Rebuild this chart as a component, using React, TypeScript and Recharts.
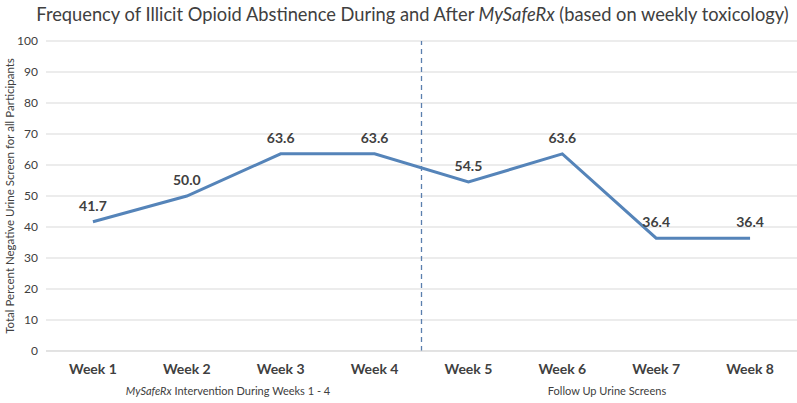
import { LineChart, Line, XAxis, YAxis, CartesianGrid, ReferenceLine, LabelList } from "recharts";

const weeks = ["Week 1", "Week 2", "Week 3", "Week 4", "Week 5", "Week 6", "Week 7", "Week 8"];
const abstinence = [41.7, 50.0, 63.6, 63.6, 54.5, 63.6, 36.4, 36.4];
const yTicks = [0, 10, 20, 30, 40, 50, 60, 70, 80, 90, 100];
const splitAfterWeek = 4.5;

const data = weeks.map((week, i) => ({ x: i + 1, week, value: abstinence[i] }));

const font = "Lato, 'Open Sans', sans-serif";
const textColor = "#404040";

function App() {
    return (
        <div style={{ position: "absolute", left: 0, top: 0, width: 797, height: 403, background: "#ffffff", fontFamily: font }}>
            <div
                style={{
                    position: "absolute",
                    left: 0,
                    top: 3,
                    width: 825,
                    textAlign: "center",
                    fontSize: 18.3,
                    color: textColor,
                    whiteSpace: "nowrap",
                }}
            >
                Frequency of Illicit Opioid Abstinence During and After <i>MySafeRx</i> (based on weekly toxicology)
            </div>
            <div
                style={{
                    position: "absolute",
                    left: 9,
                    top: 196,
                    transform: "translate(-50%, -50%) rotate(-90deg)",
                    fontSize: 11.5,
                    color: textColor,
                    whiteSpace: "nowrap",
                }}
            >
                Total Percent Negative Urine Screen for all Participants
            </div>
            <div style={{ position: "absolute", left: 228, top: 384, transform: "translateX(-50%)", fontSize: 11, color: textColor, whiteSpace: "nowrap" }}>
                <i>MySafeRx</i> Intervention During Weeks 1 - 4
            </div>
            <div style={{ position: "absolute", left: 607, top: 384, transform: "translateX(-50%)", fontSize: 11, color: textColor, whiteSpace: "nowrap" }}>
                Follow Up Urine Screens
            </div>
            <LineChart width={797} height={403} data={data} margin={{ top: 41, right: 0, left: 0, bottom: 0 }}>
                <CartesianGrid vertical={false} stroke="#d9d9d9" />
                <XAxis
                    dataKey="x"
                    type="number"
                    domain={[0.5, 8.5]}
                    ticks={[1, 2, 3, 4, 5, 6, 7, 8]}
                    tickFormatter={(v) => weeks[Number(v) - 1]}
                    height={52}
                    tickLine={false}
                    axisLine={{ stroke: "#d9d9d9" }}
                    tickMargin={7}
                    tick={{ fill: textColor, fontSize: 14, fontWeight: 700, fontFamily: font }}
                />
                <YAxis
                    domain={[0, 100]}
                    ticks={yTicks}
                    width={46}
                    tickLine={false}
                    axisLine={false}
                    tick={{ fill: textColor, fontSize: 12, fontFamily: font }}
                />
                <ReferenceLine x={splitAfterWeek} stroke="#5b7fae" strokeDasharray="5 4" strokeWidth={1.3} />
                <Line
                    type="linear"
                    dataKey="value"
                    stroke="#5584b9"
                    strokeWidth={3}
                    dot={false}
                    isAnimationActive={false}
                >
                    <LabelList
                        dataKey="value"
                        position="top"
                        offset={11}
                        formatter={(v) => Number(v).toFixed(1)}
                        style={{ fill: textColor, fontSize: 14, fontWeight: 700, fontFamily: font }}
                    />
                </Line>
            </LineChart>
        </div>
    );
}

export default App;
